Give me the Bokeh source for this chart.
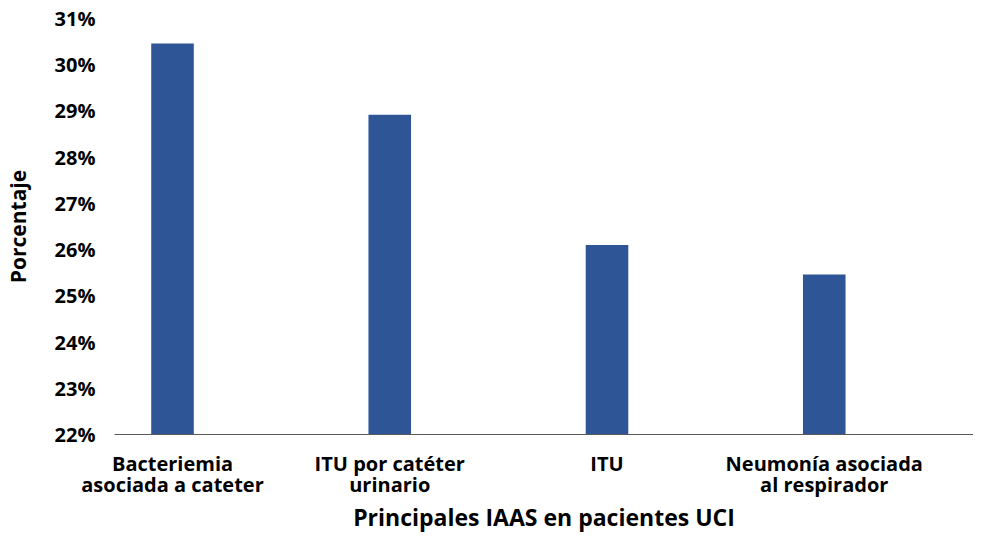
from bokeh.plotting import figure
from bokeh.models import FixedTicker, PrintfTickFormatter, Range1d, LinearAxis
from bokeh.embed import file_html
from bokeh.resources import INLINE

categories_line1 = ["Bacteriemia", "ITU por catéter", "ITU", "Neumonía asociada"]
categories_line2 = ["asociada a cateter", "urinario", "", "al respirador"]
values = [30.46, 28.92, 26.10, 25.46]
y_ticks = [22, 23, 24, 25, 26, 27, 28, 29, 30, 31]

FONT = "Open Sans"
xs = list(range(len(values)))

p = figure(width=973, height=535, output_backend="svg", toolbar_location=None,
           x_range=Range1d(-0.267, 3.687), y_range=Range1d(22, 31),
           x_axis_location=None,
           min_border_left=106, min_border_top=18, min_border_right=0, min_border_bottom=60)

p.vbar(x=xs, width=0.196, bottom=22, top=values, color="#2E5596", line_color=None)

p.outline_line_color = None
p.xgrid.visible = False
p.ygrid.visible = False

# y axis
p.yaxis.ticker = FixedTicker(ticks=y_ticks)
p.yaxis.formatter = PrintfTickFormatter(format="%d%%")
p.yaxis.axis_line_color = None
p.yaxis.major_tick_line_color = None
p.yaxis.minor_tick_line_color = None
p.yaxis.major_label_text_font = FONT
p.yaxis.major_label_text_font_style = "bold"
p.yaxis.major_label_text_font_size = "20px"
p.yaxis.major_label_text_color = "#000000"
p.yaxis.major_label_standoff = 13
p.yaxis.axis_label = "Porcentaje"
p.yaxis.axis_label_text_font = FONT
p.yaxis.axis_label_text_font_style = "bold"
p.yaxis.axis_label_text_font_size = "21px"
p.yaxis.axis_label_text_color = "#000000"
p.yaxis.axis_label_standoff = 20


def style_x(ax, labels, standoff):
    ax.ticker = FixedTicker(ticks=xs)
    ax.major_label_overrides = {i: c for i, c in zip(xs, labels)}
    ax.major_tick_line_color = None
    ax.minor_tick_line_color = None
    ax.major_tick_out = 0
    ax.major_tick_in = 0
    ax.minor_tick_out = 0
    ax.major_label_text_font = FONT
    ax.major_label_text_font_style = "bold"
    ax.major_label_text_font_size = "20px"
    ax.major_label_text_color = "#000000"
    ax.major_label_standoff = standoff


x1 = LinearAxis(axis_line_color="#595959", axis_line_width=1)
style_x(x1, categories_line1, 15)
x2 = LinearAxis(axis_line_color=None)
style_x(x2, categories_line2, -9)
x2.axis_label = "Principales IAAS en pacientes UCI"
x2.axis_label_text_font = FONT
x2.axis_label_text_font_style = "bold"
x2.axis_label_text_font_size = "23px"
x2.axis_label_text_color = "#000000"
x2.axis_label_standoff = 0
p.add_layout(x1, "below")
p.add_layout(x2, "below")

open("out.html", "w").write(file_html(p, INLINE))
